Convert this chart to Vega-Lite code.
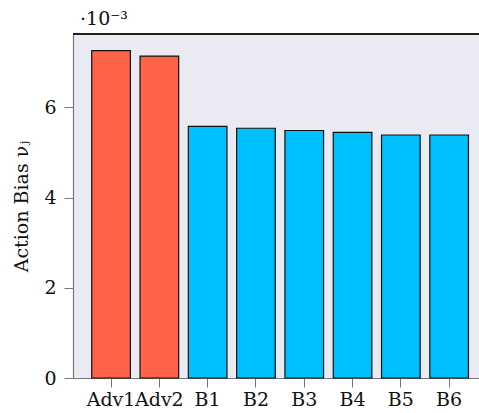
{
  "$schema": "https://vega.github.io/schema/vega-lite/v6.json",
  "autosize": "none",
  "padding": {"left": 73, "top": 34, "right": 0, "bottom": 35},
  "width": 406,
  "height": 344,
  "background": "white",
  "title": {
    "text": "·10⁻³",
    "anchor": "start",
    "frame": "group",
    "font": "DejaVu Serif",
    "fontSize": 19,
    "fontWeight": "normal",
    "color": "#111",
    "offset": 4,
    "dx": 7
  },
  "config": {
    "view": {"fill": "#eaeaf2", "stroke": null},
    "axis": {"labelFont": "DejaVu Serif", "titleFont": "DejaVu Serif", "labelColor": "#111", "titleColor": "#111", "grid": false}
  },
  "data": {
    "values": [
      {"agent": "Adv1", "bias": 0.00726, "group": "adv"},
      {"agent": "Adv2", "bias": 0.00714, "group": "adv"},
      {"agent": "B1", "bias": 0.00558, "group": "base"},
      {"agent": "B2", "bias": 0.00554, "group": "base"},
      {"agent": "B3", "bias": 0.00549, "group": "base"},
      {"agent": "B4", "bias": 0.00545, "group": "base"},
      {"agent": "B5", "bias": 0.00539, "group": "base"},
      {"agent": "B6", "bias": 0.00539, "group": "base"}
    ]
  },
  "layer": [
    {
      "mark": {"type": "bar", "stroke": "#111", "strokeWidth": 1.2},
      "encoding": {
        "x": {
          "field": "agent", "type": "nominal", "sort": null,
          "scale": {"paddingInner": 0.2, "paddingOuter": 0.303, "align": 0.64},
          "axis": {"title": null, "labelAngle": 0, "labelFontSize": 19, "tickSize": 9, "tickColor": "#777", "domainColor": "#777", "labelPadding": 3, "domainWidth": 1.2}
        },
        "y": {
          "field": "bias", "type": "quantitative",
          "scale": {"domain": [0, 0.00763], "nice": false, "zero": true},
          "axis": {"title": "Action Bias νⱼ", "titleFontSize": 19, "titleFontWeight": "normal", "values": [0, 0.002, 0.004, 0.006], "labelExpr": "format(datum.value*1000, 'd')", "labelFontSize": 19, "tickSize": 9, "tickColor": "#777", "domainColor": "#777", "labelPadding": 8, "titlePadding": 12, "domainWidth": 1.2}
        },
        "fill": {
          "field": "group", "type": "nominal",
          "scale": {"domain": ["adv", "base"], "range": ["#ff6347", "#00bfff"]},
          "legend": null
        }
      }
    },
    {
      "mark": {"type": "rule", "color": "#222", "strokeWidth": 1.3},
      "encoding": {"y": {"datum": 0.00763}}
    }
  ]
}
